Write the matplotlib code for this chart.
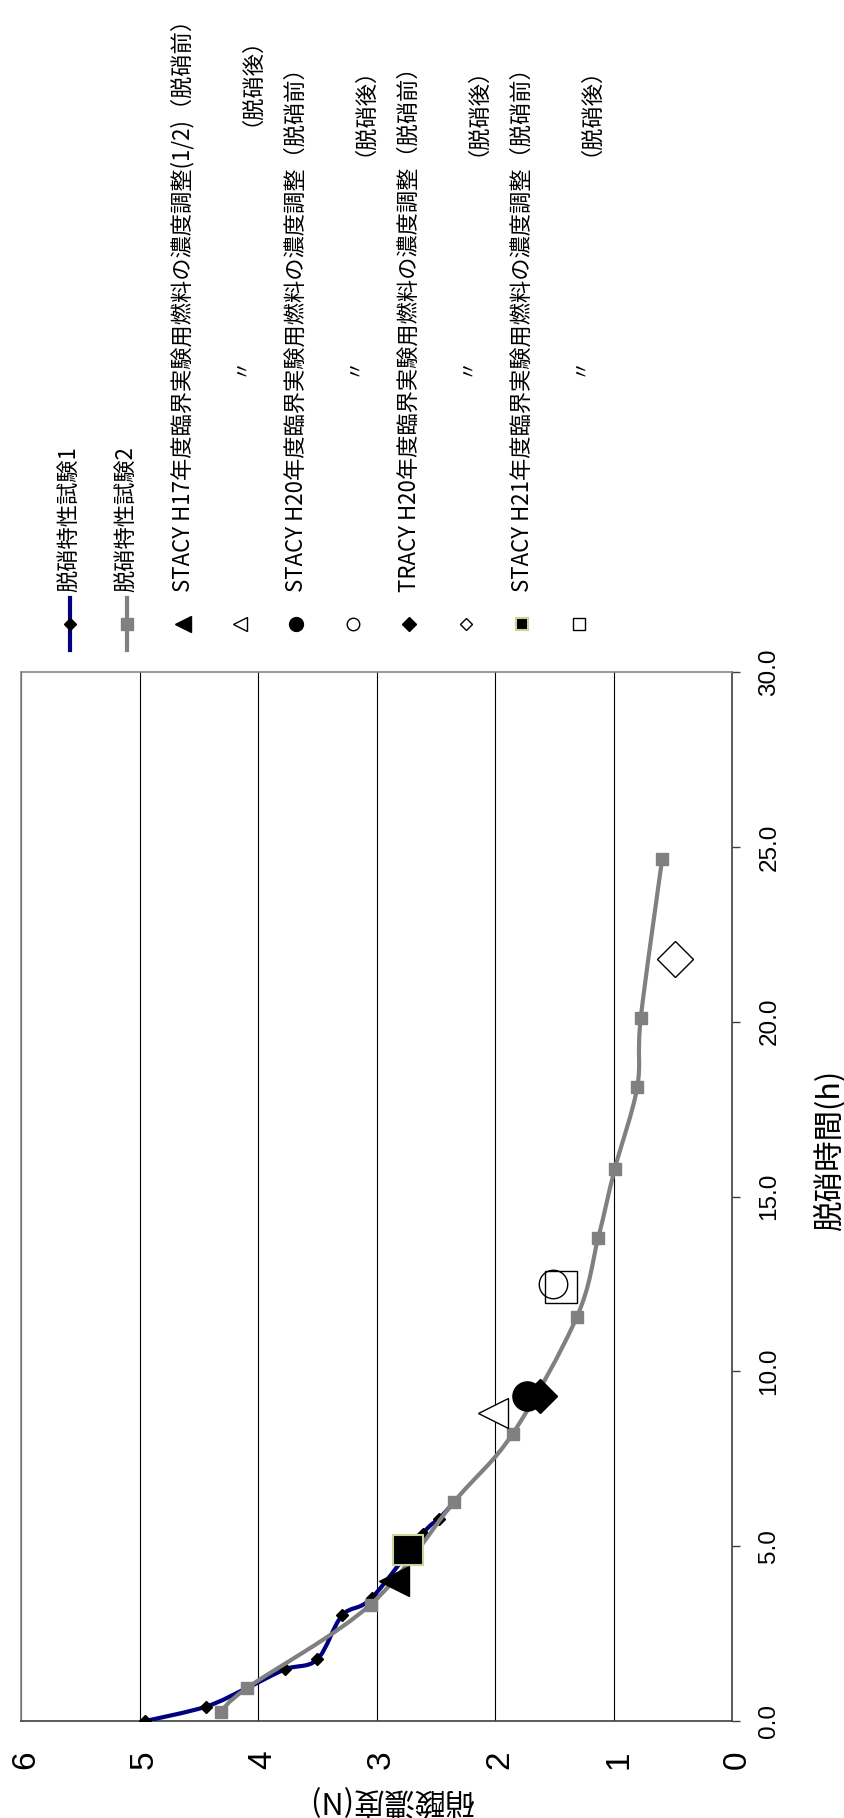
import numpy as np
import matplotlib.pyplot as plt
import matplotlib.transforms as mtransforms
from matplotlib.path import Path
from matplotlib.patches import PathPatch

# 脱硝特性試験1 (time h, nitric acid N)
t1 = [0.0, 0.41, 0.95, 1.48, 1.76, 3.02, 3.52, 5.36, 5.79, 6.25]
c1 = [4.95, 4.44, 4.09, 3.77, 3.50, 3.29, 3.04, 2.61, 2.47, 2.35]

# 脱硝特性試験2
t2 = [0.27, 0.95, 3.33, 6.25, 8.22, 11.55, 13.8, 15.78, 18.12, 20.1, 24.64]
c2 = [4.31, 4.09, 3.05, 2.35, 1.85, 1.31, 1.13, 0.99, 0.80, 0.77, 0.59]

# single measurements
pt_t = [4.0, 8.8, 9.3, 12.5, 9.3, 21.8, 4.9, 12.4]
pt_c = [2.85, 2.02, 1.73, 1.51, 1.62, 0.48, 2.73, 1.44]

leg_main = ['脱硝特性試験1', '脱硝特性試験2',
            'STACY H17年度臨界実験用燃料の濃度調整(1/2)（脱硝前）', '',
            'STACY H20年度臨界実験用燃料の濃度調整（脱硝前）', '',
            'TRACY H20年度臨界実験用燃料の濃度調整（脱硝前）', '',
            'STACY H21年度臨界実験用燃料の濃度調整（脱硝前）', '']
after_label = '（脱硝後）'
ditto = '〃'

xlab = '脱硝時間(h)'
ylab = '硝酸濃度(N)'

W, H = 844, 1818
jp = ['Noto Sans CJK JP', 'DejaVu Sans']
num = ['Liberation Sans', 'DejaVu Sans']

# marker styles: (marker, size, face, edge, edgewidth)
styles = [('<', 21, 'black', 'black', 1.0),
          ('<', 21, 'white', 'black', 1.0),
          ('o', 21, 'black', 'black', 1.0),
          ('o', 20.5, 'none', 'black', 1.0),
          ('D', 17, 'black', 'black', 1.0),
          ('D', 18, 'white', 'black', 1.0),
          ('s', 22, 'black', '#c4d79b', 1.5),
          ('s', 23, 'none', 'black', 1.0)]
leg_sizes = [11, 10, 10, 9, 7, 6, 9, 9]


def smooth(x, y):
    # catmull-rom curve through the points as bezier segments
    p = np.column_stack([x, y]).astype(float)
    verts = [p[0]]
    codes = [Path.MOVETO]
    n = len(p)
    for i in range(n - 1):
        p0 = p[i - 1] if i > 0 else p[i]
        p3 = p[i + 2] if i + 2 < n else p[i + 1]
        c1_ = p[i] + (p[i + 1] - p0) / 6.0
        c2_ = p[i + 1] - (p3 - p[i]) / 6.0
        verts += [c1_, c2_, p[i + 1]]
        codes += [Path.CURVE4] * 3
    return Path(verts, codes)


fig = plt.figure(figsize=(W / 100, H / 100), dpi=100)
ax = fig.add_axes([21 / W, 97 / H, 711 / W, 1049 / H])

ax.add_patch(PathPatch(smooth(c1, t1), fill=False, edgecolor='#000080', lw=3, zorder=3))
ax.plot(c1, t1, ls='none', marker='D', ms=6.5, color='black', zorder=4)
ax.add_patch(PathPatch(smooth(c2, t2), fill=False, edgecolor='#808080', lw=3, zorder=5))
ax.plot(c2, t2, ls='none', marker='s', ms=8, color='#808080', zorder=6)

for i in range(len(pt_t)):
    m, s, fc, ec, ew = styles[i]
    ax.plot(pt_c[i], pt_t[i], ls='none', marker=m, ms=s, markerfacecolor=fc,
            markeredgecolor=ec, markeredgewidth=ew, zorder=7 + i)

ax.set_xlim(6, 0)
ax.set_ylim(0, 30)
ax.set_xticks(range(7))
ax.set_xticklabels([str(v) for v in range(7)], rotation=90, fontsize=24, family=num,
                   va='top', ha='center')
ax.tick_params(axis='x', length=0, pad=21)
ax.grid(axis='x', color='black', lw=0.8)
ax.yaxis.tick_right()
ax.yaxis.set_label_position('right')
ax.set_yticks(np.arange(0, 31, 5))
ax.set_yticklabels(['%.1f' % v for v in np.arange(0, 31, 5)], rotation=90, fontsize=17.5,
                   family=num, va='center', ha='left')
ax.tick_params(axis='y', direction='out', length=6, width=1, color='#404040', pad=13)
shift = mtransforms.ScaledTranslation(5 / 100, 0, fig.dpi_scale_trans)
for lab in ax.get_xticklabels():
    lab.set_transform(lab.get_transform() + shift)

for side in ['top', 'left']:
    ax.spines[side].set_color('#888888')
for side in ['bottom', 'right']:
    ax.spines[side].set_color('#404040')
for sp in ax.spines.values():
    sp.set_linewidth(1.2)

ax.set_xlabel(ylab, fontsize=22, family=jp, rotation=180, va='center', ha='center')
ax.xaxis.set_label_coords(0.52, -0.075)
ax.set_ylabel(xlab, fontsize=22, family=jp, rotation=90, va='center', ha='center')
ax.yaxis.set_label_coords(1.138, 0.544)

# legend drawn by hand in pixel coordinates (the whole chart is turned on its side)
lax = fig.add_axes([0, 0, 1, 1])
lax.set_xlim(0, W)
lax.set_ylim(H, 0)
lax.axis('off')
x0, dx = 70, 56.5
ym, y_text = 624, 592
for i in range(2):
    xx = x0 + dx * i
    col = '#000080' if i == 0 else '#808080'
    lax.plot([xx, xx], [598, 650], color=col, lw=3)
    if i == 0:
        lax.plot(xx, ym, marker='D', ms=6.5, color='black')
    else:
        lax.plot(xx, ym, marker='s', ms=8, color='#808080')
for j in range(8):
    xx = x0 + dx * (j + 2)
    m, s, fc, ec, ew = styles[j]
    lax.plot(xx, ym, marker=m, ms=leg_sizes[j], markerfacecolor=fc,
             markeredgecolor=ec, markeredgewidth=ew)
for i, lab in enumerate(leg_main):
    xx = x0 + dx * i
    if lab:
        lax.text(xx, y_text, lab, rotation=90, ha='center', va='bottom', fontsize=16, family=jp)
    else:
        lax.text(xx, 366, ditto, rotation=90, ha='center', va='center', fontsize=14, family=jp)
        if i == 3:
            lax.text(xx, 15, after_label, rotation=90, ha='center', va='top', fontsize=16, family=jp)
        else:
            lax.text(xx, 156, after_label, rotation=90, ha='center', va='bottom', fontsize=16, family=jp)

fig.savefig('out.png', dpi=100)
